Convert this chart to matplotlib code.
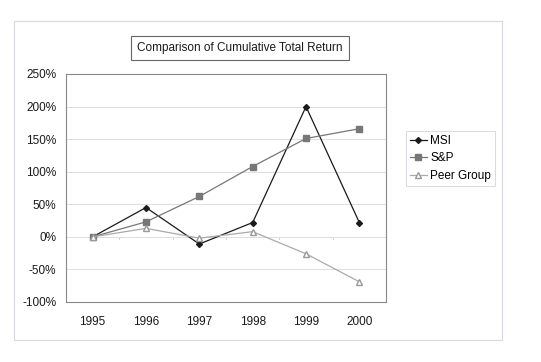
import matplotlib.pyplot as plt
from matplotlib.patches import Rectangle
from matplotlib.ticker import FuncFormatter

plt.rcParams['font.family'] = ['Liberation Sans', 'DejaVu Sans']

years = ['1995', '1996', '1997', '1998', '1999', '2000']
msi = [0, 45, -11, 22, 200, 22]
snp = [0, 23, 62, 108, 151, 166]
peer = [0, 13, -2, 8, -26, -69]

W, H = 541, 362
fig = plt.figure(figsize=(W / 100, H / 100), dpi=100)

# outer chart frame
fig.patches.append(Rectangle((14 / W, 1 - 340 / H), 488 / W, 319 / H,
                             transform=fig.transFigure, fill=False,
                             edgecolor='#d8d8e4', lw=0.8))

ax = fig.add_axes([66 / W, 1 - 302 / H, 320 / W, 228 / H])
x = range(len(years))
ax.plot(x, msi, color='#1a1a1a', lw=0.9, marker='D', ms=3, label='MSI')
ax.plot(x, snp, color='#777777', lw=0.9, marker='s', ms=4, label='S&P')
ax.plot(x, peer, color='#aaaaaa', lw=0.9, marker='^', ms=4.5,
        mfc='white', mec='#999999', label='Peer Group')

ax.set_xlim(-0.5, len(years) - 0.5)
ax.set_ylim(-100, 250)
ax.set_yticks(range(-100, 251, 50))
ax.yaxis.set_major_formatter(FuncFormatter(lambda v, p: f'{v:.0f}%'))
ax.set_xticks(list(x))
ax.set_xticklabels(years)
ax.tick_params(axis='x', length=0, pad=10, labelsize=8.5, colors='#1a1a1a')
ax.tick_params(axis='y', length=0, pad=7, labelsize=8.5, colors='#1a1a1a')
ax.yaxis.grid(True, color='#dcdcec', lw=0.7)
ax.set_axisbelow(True)
ax.axhline(0, color='#dcdcec', lw=0.7, zorder=0)
for b in range(1, len(years)):
    ax.plot([b - 0.5, b - 0.5], [0, -3], color='#c8c8d8', lw=0.6, zorder=0)
for s in ax.spines.values():
    s.set_color('#888888')
    s.set_linewidth(0.8)

fig.text(240 / W, 1 - 48 / H, 'Comparison of Cumulative Total Return',
         ha='center', va='center', fontsize=8.5, color='#1a1a1a',
         bbox=dict(boxstyle='square,pad=0.5', fc='white', ec='#666666', lw=0.8))

leg = fig.legend(loc='upper left', bbox_to_anchor=(406 / W, 1 - 131 / H),
                 fontsize=8.5, frameon=True, fancybox=False, edgecolor='#d0d0dc',
                 handlelength=1.4, handletextpad=0.3, borderpad=0.35,
                 labelspacing=0.45, borderaxespad=0)
leg.get_frame().set_linewidth(0.7)

fig.savefig('out.png', dpi=100, facecolor='white')
